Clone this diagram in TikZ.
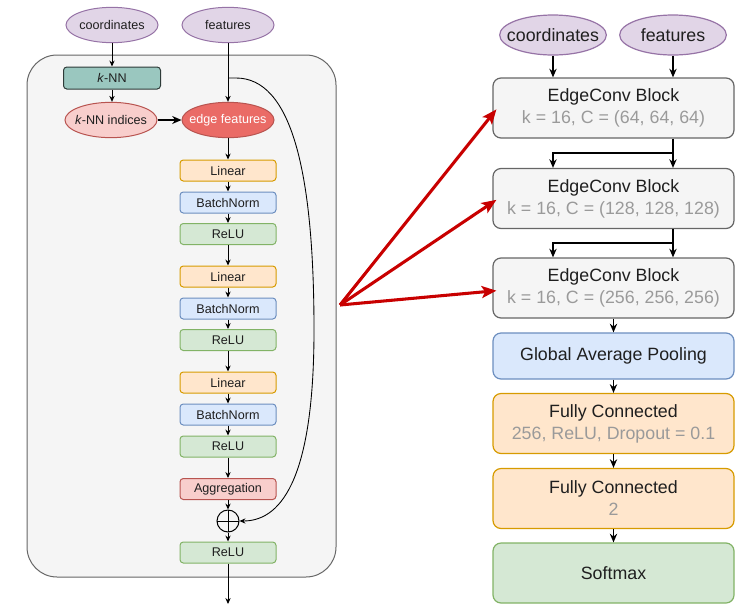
\documentclass[tikz,border=0pt]{standalone}
\usepackage{fontspec}
\setmainfont{Liberation Sans}
\usetikzlibrary{arrows.meta,shapes.geometric,calc}

\definecolor{txt}{HTML}{1F1F1F}
\definecolor{subgray}{HTML}{9A9A9A}
\definecolor{pufill}{HTML}{E1D5E7}
\definecolor{puline}{HTML}{9673A6}
\definecolor{tefill}{HTML}{9AC7BF}
\definecolor{teline}{HTML}{2E3B38}
\definecolor{pkfill}{HTML}{F8CECC}
\definecolor{pkline}{HTML}{B85450}
\definecolor{rdfill}{HTML}{EA6B66}
\definecolor{orfill}{HTML}{FFE6CC}
\definecolor{orline}{HTML}{D79B00}
\definecolor{blfill}{HTML}{DAE8FC}
\definecolor{blline}{HTML}{6C8EBF}
\definecolor{grfill}{HTML}{D5E8D4}
\definecolor{grline}{HTML}{82B366}
\definecolor{gyfill}{HTML}{F5F5F5}
\definecolor{gyline}{HTML}{666666}
\definecolor{bigred}{HTML}{C80000}

% text whose width does not enlarge the ellipse around it
\newcommand{\zerowd}[1]{\makebox[0pt]{#1}}

\begin{document}
\begin{tikzpicture}[x=0.75pt,y=-0.75pt,
  smallfont/.style={font=\fontsize{9.45pt}{11pt}\selectfont},
  bigfont/.style={font=\fontsize{13.35pt}{16.5pt}\selectfont},
  lbox/.style={draw, rounded corners=2.5pt, minimum width=72pt, minimum height=15.75pt,
    inner sep=0pt, smallfont, text=txt, line width=0.75pt},
  linbox/.style={lbox, fill=orfill, draw=orline},
  bnbox/.style={lbox, fill=blfill, draw=blline},
  relubox/.style={lbox, fill=grfill, draw=grline},
  aggbox/.style={lbox, fill=pkfill, draw=pkline},
  lell/.style={ellipse, draw, inner sep=0pt, minimum width=69pt, minimum height=26.5pt,
    smallfont, text=txt, line width=0.75pt},
  rell/.style={ellipse, draw=puline, fill=pufill, inner sep=0pt, minimum width=80pt,
    minimum height=30pt, bigfont, text=txt, line width=0.9pt},
  rbox/.style={draw, rounded corners=6pt, minimum width=180.75pt, minimum height=45pt,
    inner sep=0pt, align=center, bigfont, text=txt, line width=0.9pt},
  sarrow/.style={draw=black, line width=0.65pt, -{Stealth[length=4.5pt,width=4pt]}},
  rarrow/.style={draw=black, line width=1.1pt, -{Stealth[length=6.5pt,width=5.5pt]}},
  redarrow/.style={draw=bigred, line width=2.3pt, -{Stealth[length=11pt,width=9pt,inset=2.5pt]}}
]
\useasboundingbox (0,0) rectangle (749,604);

% ---------- EdgeConv block detail ----------
\node[draw=gyline, fill=gyfill, rounded corners=22.5pt, line width=0.75pt,
  minimum width=231.75pt, minimum height=391.5pt, inner sep=0pt] (frame) at (181.5,316) {};

\node[lell, draw=puline, fill=pufill] (lcoord) at (112,25) {\zerowd{coordinates}};
\node[lell, draw=puline, fill=pufill] (lfeat) at (228,25) {\zerowd{features}};

\node[lbox, draw=teline, fill=tefill, minimum width=72.75pt, minimum height=16.5pt] (knn) at (112,78) {\textit{k}-NN};
\node[lell, draw=pkline, fill=pkfill] (knnidx) at (111,120) {\zerowd{\textit{k}-NN indices}};
\node[lell, draw=pkline, fill=rdfill, text=white] (edgef) at (228,120) {\zerowd{edge features}};

\node[linbox]  (lin1) at (228,170.5) {Linear};
\node[bnbox]   (bn1)  at (228,202.5) {BatchNorm};
\node[relubox] (re1)  at (228,234)   {ReLU};
\node[linbox]  (lin2) at (228,276.5) {Linear};
\node[bnbox]   (bn2)  at (228,308.5) {BatchNorm};
\node[relubox] (re2)  at (228,340)   {ReLU};
\node[linbox]  (lin3) at (228,382.5) {Linear};
\node[bnbox]   (bn3)  at (228,414.5) {BatchNorm};
\node[relubox] (re3)  at (228,446.5) {ReLU};
\node[aggbox]  (agg)  at (228,489)   {Aggregation};
\node[circle, draw=black, line width=0.75pt, minimum size=16.5pt, inner sep=0pt,
  path picture={\draw[line width=0.75pt]
    (path picture bounding box.north) -- (path picture bounding box.south)
    (path picture bounding box.west) -- (path picture bounding box.east);}]
  (oplus) at (228,521) {};
\node[relubox] (ref)  at (228,552.5) {ReLU};

\coordinate (branch) at (228,78);
\coordinate (outend) at (228,604);

\draw[sarrow] (lcoord.south) -- (knn.north);
\draw[sarrow] (knn.south) -- (knnidx.north -| knn.south);
\draw[sarrow] (lfeat.south) -- (edgef.north);
\draw[draw=black, line width=1pt, -{Stealth[length=7pt,width=6pt]}] (knnidx.east) -- (edgef.west);
\draw[sarrow] (edgef.south) -- (lin1.north);
\draw[sarrow] (lin1.south) -- (bn1.north);
\draw[sarrow] (bn1.south) -- (re1.north);
\draw[sarrow] (re1.south) -- (lin2.north);
\draw[sarrow] (lin2.south) -- (bn2.north);
\draw[sarrow] (bn2.south) -- (re2.north);
\draw[sarrow] (re2.south) -- (lin3.north);
\draw[sarrow] (lin3.south) -- (bn3.north);
\draw[sarrow] (bn3.south) -- (re3.north);
\draw[sarrow] (re3.south) -- (agg.north);
\draw[sarrow] (agg.south) -- (oplus.north);
\draw[sarrow] (oplus.south) -- (ref.north);
\draw[sarrow] (ref.south) -- (outend);

% residual connection
\draw[sarrow] (branch) -- ++(8,0) .. controls +(55,0) and (314,170) .. (314,330)
  .. controls (314,470) and (285,521) .. (oplus.east);

% ---------- overall network ----------
\node[rell] (rcoord) at (553,35) {\zerowd{coordinates}};
\node[rell] (rfeat) at (673,35) {\zerowd{features}};

\node[rbox, draw=gyline, fill=gyfill] (ec1) at (613.5,108)
  {EdgeConv Block\\{\color{subgray}k = 16, C = (64, 64, 64)}};
\node[rbox, draw=gyline, fill=gyfill] (ec2) at (613.5,198.5)
  {EdgeConv Block\\{\color{subgray}k = 16, C = (128, 128, 128)}};
\node[rbox, draw=gyline, fill=gyfill] (ec3) at (613.5,288)
  {EdgeConv Block\\{\color{subgray}k = 16, C = (256, 256, 256)}};
\node[rbox, draw=blline, fill=blfill, minimum height=34.5pt] (gap) at (613.5,356)
  {Global Average Pooling};
\node[rbox, draw=orline, fill=orfill] (fc1) at (613.5,423.5)
  {Fully Connected\\{\color{subgray}256, ReLU, Dropout = 0.1}};
\node[rbox, draw=orline, fill=orfill] (fc2) at (613.5,498.5)
  {Fully Connected\\{\color{subgray}2}};
\node[rbox, draw=grline, fill=grfill] (soft) at (613.5,573) {Softmax};

\coordinate (split1) at (673,153);
\coordinate (split2) at (673,243);

\draw[rarrow] (rcoord.south) -- (rcoord.south |- ec1.north);
\draw[rarrow] (rfeat.south) -- (rfeat.south |- ec1.north);
\draw[rarrow] (ec1.south -| split1) -- (ec2.north -| split1);
\draw[rarrow] (split1) -| (ec2.north -| rcoord.south);
\draw[rarrow] (ec2.south -| split2) -- (ec3.north -| split2);
\draw[rarrow] (split2) -| (ec3.north -| rcoord.south);
\draw[rarrow] (ec3.south) -- (gap.north);
\draw[rarrow] (gap.south) -- (fc1.north);
\draw[rarrow] (fc1.south) -- (fc2.north);
\draw[rarrow] (fc2.south) -- (soft.north);

% block detail pointers
\coordinate (redsrc) at (340,305);
\draw[redarrow] (redsrc) -- ([xshift=3pt,yshift=-1pt]ec1.west);
\draw[redarrow] (redsrc) -- ([xshift=3pt,yshift=-1pt]ec2.west);
\draw[redarrow] (redsrc) -- ([xshift=3pt,yshift=-2pt]ec3.west);
\end{tikzpicture}
\end{document}
